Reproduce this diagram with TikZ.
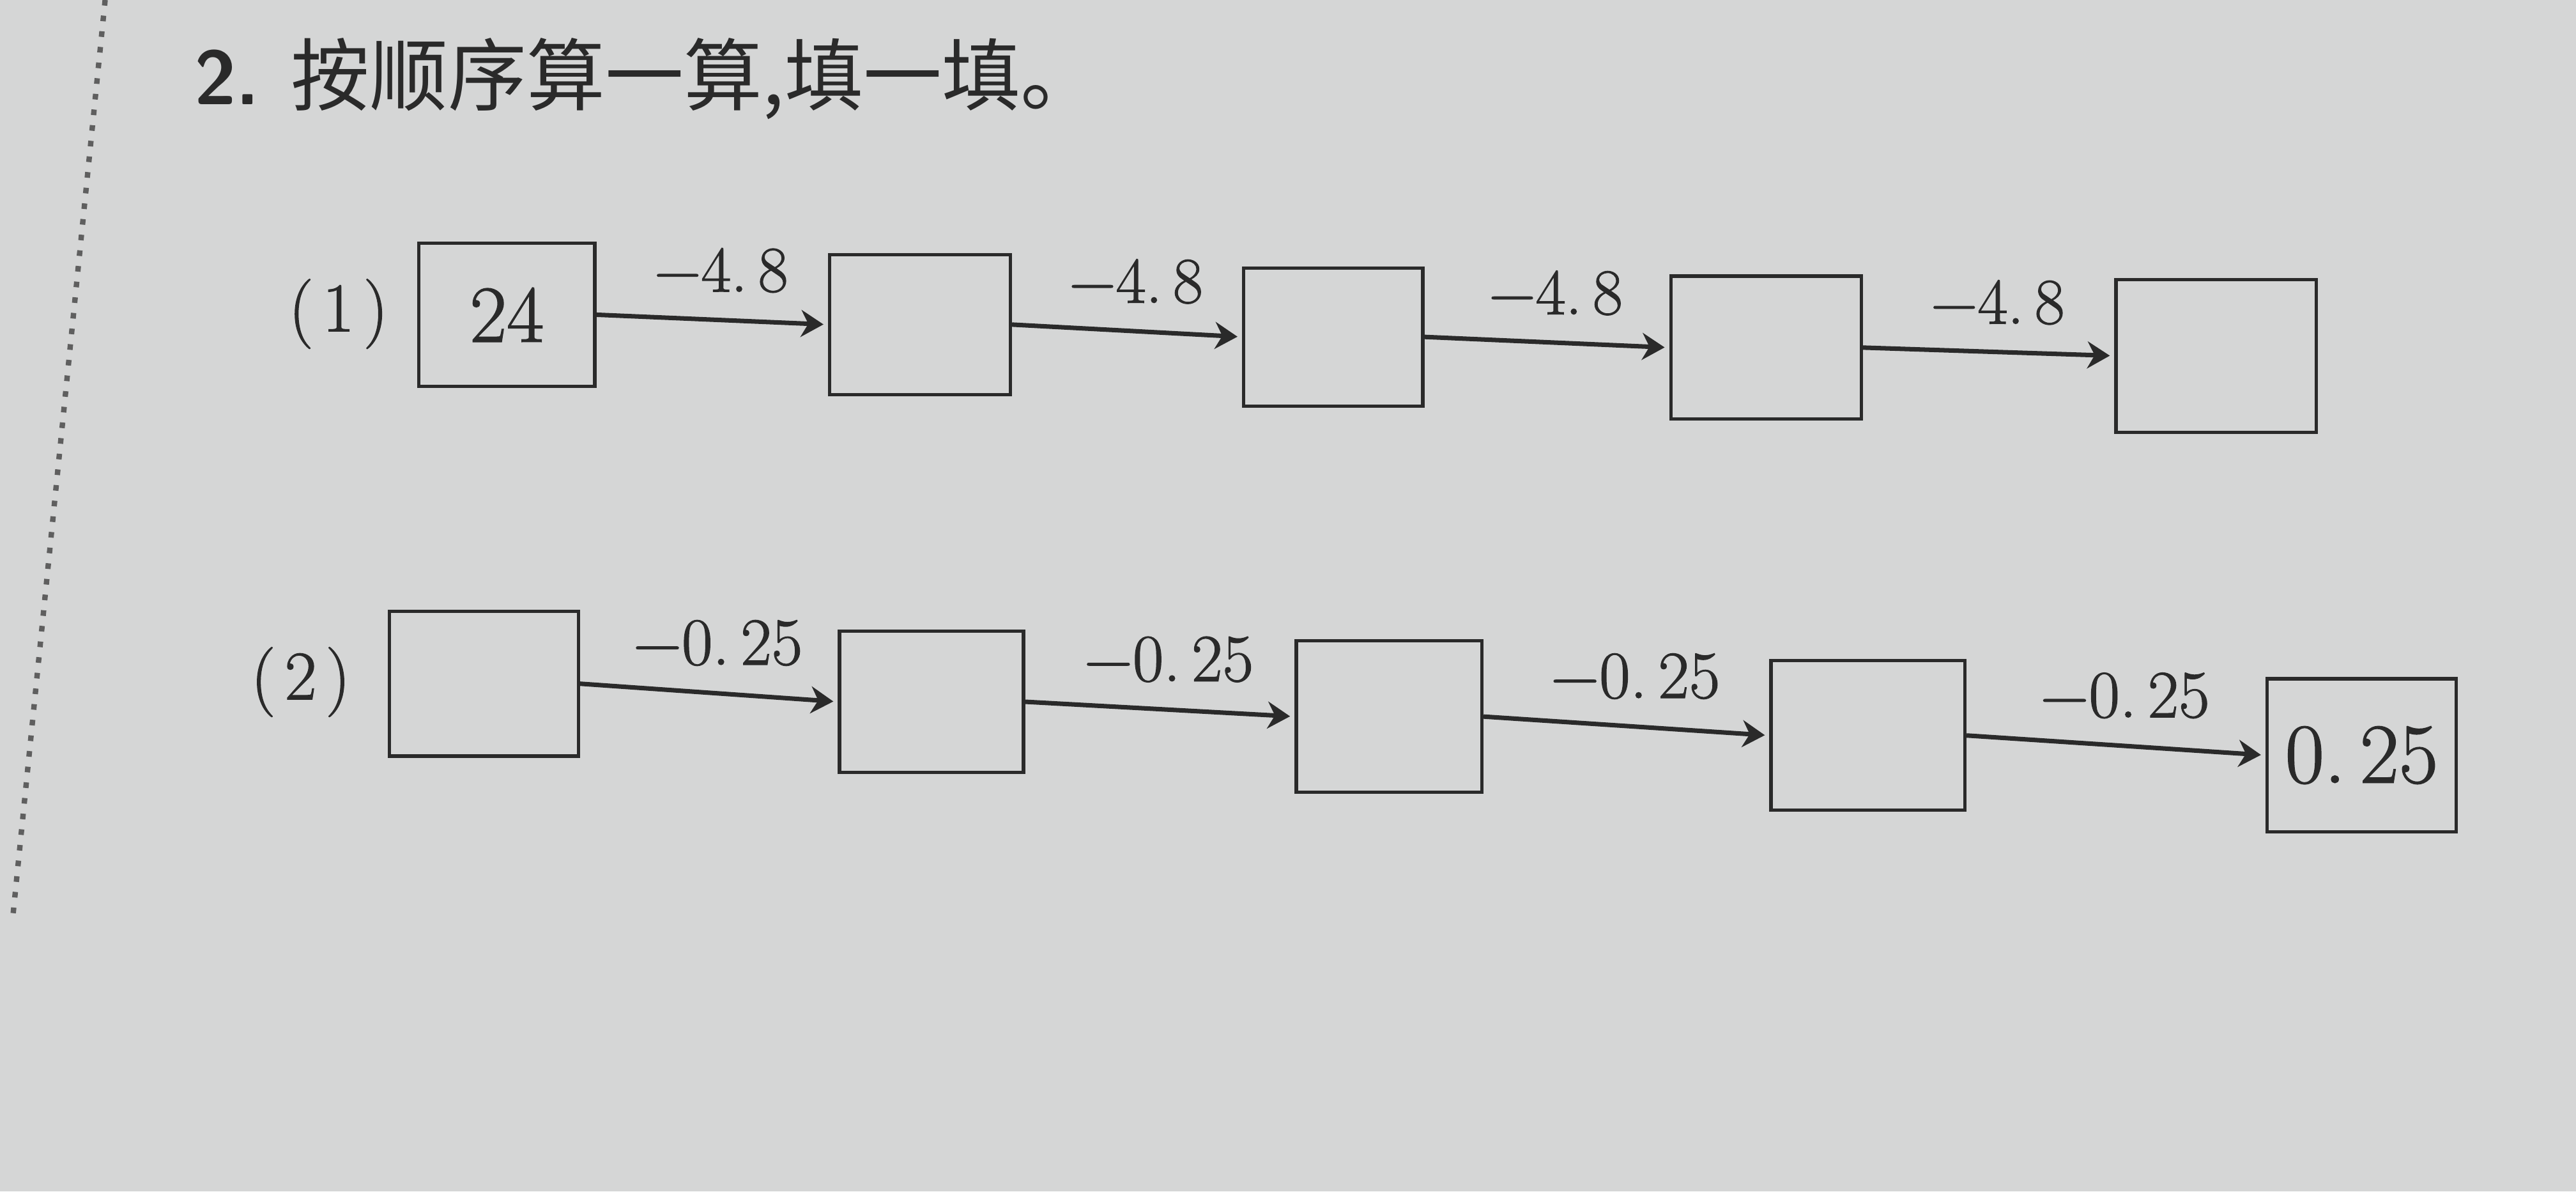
\documentclass[tikz,border=0pt]{standalone}
\usepackage{fontspec}
\newfontfamily\cjk{Noto Sans CJK SC}
\newfontfamily\numfont{Latin Modern Roman}[FakeBold=1.2]
\usetikzlibrary{arrows.meta}
\definecolor{paper}{RGB}{213,214,214}
\definecolor{ink}{RGB}{42,42,42}
\tikzset{
  stepbox/.style={draw=ink, line width=1.5pt, inner sep=0pt, text=ink},
  flow/.style={draw=ink, line width=2pt, -{Stealth[length=10pt,width=12pt]}, shorten >=2pt},
  lbla/.style={text=ink, font=\numfont\fontsize{29}{30}\selectfont, inner sep=0pt, above=11pt, xshift=4pt},
  lblb/.style={text=ink, font=\numfont\fontsize{30}{32}\selectfont, inner sep=0pt, above=11pt, xshift=4pt},
  tag/.style={text=ink, font=\numfont\fontsize{31}{33}\selectfont, inner sep=0pt},
}
\begin{document}
\begin{tikzpicture}[x=0.025714cm, y=-0.025714cm]
\fill[paper] (0,0) rectangle (1568,725);
\useasboundingbox (0,0) rectangle (1568,725);
% dotted margin line
\coordinate (m1) at (64,0);
\coordinate (m2) at (8,556);
\draw[ink!75, line width=2.4pt, dash pattern=on 2.5pt off 4.5pt] (m1) -- (m2);
% title
\node[anchor=west, text=ink, inner sep=0pt] (title) at (118,48)
  {{\fontsize{34}{36}\selectfont\sffamily\bfseries 2.}\hspace{14pt}{\cjk\fontsize{35}{38}\selectfont 按顺序算一算,填一填。}};
% row 1
\node[tag] (p1) at (206,191) {(\hspace{4pt}1\hspace{4pt})};
\node[stepbox, minimum width=107*0.025714cm, minimum height=87*0.025714cm, font=\numfont\fontsize{36}{38}\selectfont] (b11) at (308.5,191.5) {24};
\node[stepbox, minimum width=110*0.025714cm, minimum height=85*0.025714cm] (b12) at (560,197.5) {};
\node[stepbox, minimum width=109*0.025714cm, minimum height=84*0.025714cm] (b13) at (811.5,205) {};
\node[stepbox, minimum width=116*0.025714cm, minimum height=87*0.025714cm] (b14) at (1075,211.5) {};
\node[stepbox, minimum width=122*0.025714cm, minimum height=93*0.025714cm] (b15) at (1349,216.5) {};
\draw[flow] (b11.east) -- node[lbla] {−4.\,8} (b12.west);
\draw[flow] (b12.east) -- node[lbla] {−4.\,8} (b13.west);
\draw[flow] (b13.east) -- node[lbla] {−4.\,8} (b14.west);
\draw[flow] (b14.east) -- node[lbla] {−4.\,8} (b15.west);
% row 2
\node[tag] (p2) at (183,415) {(\hspace{4pt}2\hspace{4pt})};
\node[stepbox, minimum width=115*0.025714cm, minimum height=88*0.025714cm] (b21) at (294.5,416) {};
\node[stepbox, minimum width=112*0.025714cm, minimum height=86*0.025714cm] (b22) at (567,427) {};
\node[stepbox, minimum width=113*0.025714cm, minimum height=92*0.025714cm] (b23) at (845.5,436) {};
\node[stepbox, minimum width=118*0.025714cm, minimum height=91*0.025714cm] (b24) at (1137,447.5) {};
\node[stepbox, minimum width=115*0.025714cm, minimum height=93*0.025714cm, font=\numfont\fontsize{38}{40}\selectfont] (b25) at (1437.5,459.5) {0.\,25};
\draw[flow] (b21.east) -- node[lblb] {−0.\,25} (b22.west);
\draw[flow] (b22.east) -- node[lblb] {−0.\,25} (b23.west);
\draw[flow] (b23.east) -- node[lblb] {−0.\,25} (b24.west);
\draw[flow] (b24.east) -- node[lblb] {−0.\,25} (b25.west);
\end{tikzpicture}
\end{document}
